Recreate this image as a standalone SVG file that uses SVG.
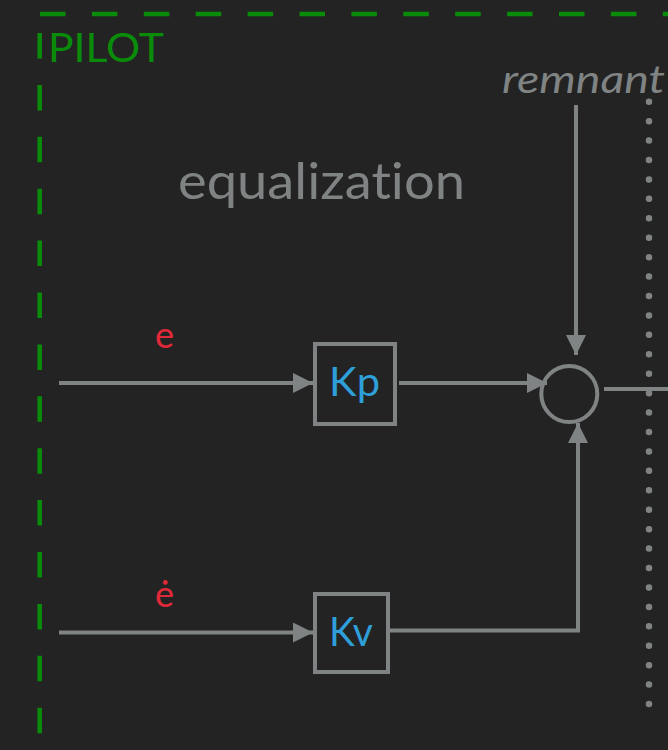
<svg xmlns="http://www.w3.org/2000/svg" width="668" height="750" viewBox="0 0 668 750">
<style>
.bg{fill:#232323}
.pilot{fill:none;stroke:#0a8c0a;stroke-width:4.5;stroke-dasharray:25.5 26.4}
.wire{fill:none;stroke:#808384;stroke-width:4}
.box{fill:none;stroke:#808384;stroke-width:4}
.lbl{font-family:"Lato","Liberation Sans",sans-serif;font-variant-ligatures:none}
.gain{fill:#2e9fd9;font-size:40px}
.sig{fill:#e2293a;font-size:36px}
.gray{fill:#808384}
</style>
<defs>
<marker id="ah" viewBox="0 0 20 20" refX="20" refY="10" markerWidth="20" markerHeight="20" markerUnits="userSpaceOnUse" orient="auto">
<path d="M0,0 L20,10 L0,20 Z" fill="#808384"/>
</marker>
</defs>
<rect class="bg" x="0" y="0" width="668" height="750"/>
<g id="pilot-frame">
<line class="pilot" x1="40" y1="14" x2="668" y2="14"/>
<line class="pilot" x1="39.7" y1="33" x2="39.7" y2="750"/>
<text class="lbl" x="48" y="62" font-size="40" fill="#0a8c0a" textLength="116" lengthAdjust="spacingAndGlyphs">PILOT</text>
</g>
<g id="boundary">
<line x1="649" y1="101.7" x2="649" y2="705" stroke="#808384" stroke-width="6.5" stroke-linecap="round" stroke-dasharray="0 19.43"/>
</g>
<g id="equalization-label">
<text class="lbl gray" x="178" y="199" font-size="50" textLength="287" lengthAdjust="spacingAndGlyphs">equalization</text>
</g>
<g id="remnant-label">
<text class="lbl gray" x="502" y="93" font-size="38" font-style="italic" textLength="163" lengthAdjust="spacingAndGlyphs">remnant</text>
</g>
<g id="connectors">
<line class="wire" x1="59" y1="383" x2="313" y2="383" marker-end="url(#ah)"/>
<line class="wire" x1="399" y1="383" x2="547" y2="383" marker-end="url(#ah)"/>
<line class="wire" x1="576" y1="105" x2="576" y2="355" marker-end="url(#ah)"/>
<line class="wire" x1="604" y1="389" x2="668" y2="389"/>
<line class="wire" x1="59" y1="632.5" x2="313" y2="632.5" marker-end="url(#ah)"/>
<path class="wire" d="M390,630.5 H578 V423" marker-end="url(#ah)"/>
</g>
<g id="sum">
<circle cx="569.3" cy="394" r="28" fill="none" stroke="#808384" stroke-width="4"/>
</g>
<g id="Kp">
<rect class="box" x="315" y="344" width="80" height="80"/>
<text class="lbl gain" x="329" y="396" textLength="51" lengthAdjust="spacingAndGlyphs">Kp</text>
</g>
<g id="Kv">
<rect class="box" x="315" y="594" width="73" height="78"/>
<text class="lbl gain" x="329" y="646" textLength="44" lengthAdjust="spacingAndGlyphs">Kv</text>
</g>
<g id="e-label">
<text class="lbl sig" x="155" y="348">e</text>
</g>
<g id="edot-label">
<text class="lbl sig" x="155" y="607">ė</text>
</g>
</svg>
